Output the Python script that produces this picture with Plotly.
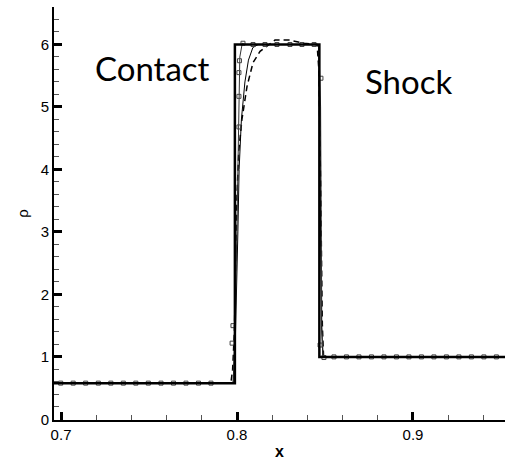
import plotly.graph_objects as go

# ---- data ----
exact_x = [0.69, 0.7988, 0.7988, 0.8468, 0.8468, 0.96]
exact_y = [0.58, 0.58, 6.0, 6.0, 1.0, 1.0]

lineA_x = [0.69, 0.7978, 0.7990, 0.8003, 0.8010, 0.8012, 0.8016, 0.8030, 0.8045, 0.8465, 0.8475, 0.8482, 0.8490, 0.96]
lineA_y = [0.58, 0.58, 1.5, 3.5, 4.7, 5.5, 5.8, 6.02, 6.0, 6.0, 5.0, 1.5, 1.0, 1.0]

markA_x = [0.6998, 0.7069, 0.7140, 0.7212, 0.7283, 0.7354, 0.7425, 0.7496, 0.7568, 0.7639, 0.7710, 0.7781, 0.7852,
           0.7972, 0.7977, 0.8011, 0.8011, 0.8011, 0.8014,
           0.8034, 0.8091, 0.8159, 0.8227, 0.8301, 0.8369, 0.8438,
           0.8477, 0.8472, 0.8494,
           0.8551, 0.8622, 0.8693, 0.8764, 0.8835, 0.8906, 0.8977, 0.9048, 0.9119, 0.9190, 0.9261, 0.9332, 0.9403, 0.9474]
markA_y = [0.58, 0.58, 0.58, 0.58, 0.58, 0.58, 0.58, 0.58, 0.58, 0.58, 0.58, 0.58, 0.58,
           1.22, 1.50, 4.68, 5.17, 5.55, 5.74,
           6.02, 6.0, 6.0, 6.0, 6.0, 6.0, 6.0,
           5.46, 1.19, 0.99,
           1.0, 1.0, 1.0, 1.0, 1.0, 1.0, 1.0, 1.0, 1.0, 1.0, 1.0, 1.0, 1.0, 1.0]

lineB_x = [0.69, 0.7978, 0.7990, 0.7998, 0.8005, 0.8012, 0.8025, 0.8045, 0.8065, 0.8090, 0.8120, 0.8465, 0.8472, 0.8480, 0.8488, 0.96]
lineB_y = [0.58, 0.58, 1.2, 2.0, 3.0, 4.0, 4.8, 5.4, 5.75, 5.95, 6.0, 6.0, 4.0, 1.5, 1.0, 1.0]

dashC_x = [0.69, 0.7965, 0.7975, 0.7985, 0.7993, 0.8000, 0.8010, 0.8028, 0.8057, 0.8091, 0.8131, 0.8216, 0.8300, 0.8380, 0.8455, 0.8465, 0.8475, 0.8485, 0.8492, 0.96]
dashC_y = [0.58, 0.58, 0.8, 1.4, 2.5, 3.6, 4.3, 4.8, 5.33, 5.71, 5.89, 6.07, 6.07, 6.02, 6.0, 5.6, 3.8, 1.5, 1.0, 1.0]

x_ticks = [0.7, 0.8, 0.9]
y_ticks = [0, 1, 2, 3, 4, 5, 6]

labels = ["Contact", "Shock"]
label_x = [0.7517, 0.8977]
label_y = [5.63, 5.41]

fig = go.Figure()
fig.add_trace(go.Scatter(x=dashC_x, y=dashC_y, mode="lines",
                         line=dict(color="black", width=1.5, dash="6px,4px"), showlegend=False))
fig.add_trace(go.Scatter(x=lineB_x, y=lineB_y, mode="lines",
                         line=dict(color="black", width=1), showlegend=False))
fig.add_trace(go.Scatter(x=lineA_x, y=lineA_y, mode="lines",
                         line=dict(color="#333", width=1), showlegend=False))
fig.add_trace(go.Scatter(x=markA_x, y=markA_y, mode="markers",
                         marker=dict(symbol="square-open", size=4, color="#444", line=dict(width=1)),
                         showlegend=False))
fig.add_trace(go.Scatter(x=exact_x, y=exact_y, mode="lines",
                         line=dict(color="black", width=2.5), showlegend=False))

for t, xx, yy in zip(labels, label_x, label_y):
    fig.add_annotation(x=xx, y=yy, text=t, showarrow=False,
                       font=dict(family="Lato, Open Sans, sans-serif", size=33, color="black"))

axis_common = dict(showline=True, linecolor="black", linewidth=2, ticks="inside",
                   ticklen=8, tickwidth=2.5, tickcolor="black", showgrid=False, zeroline=False,
                   tickfont=dict(family="Liberation Sans, Arial, sans-serif", size=15, color="black"))

fig.update_xaxes(range=[0.696, 0.9523], tickvals=x_ticks, ticktext=[str(v) for v in x_ticks],
                 minor=dict(ticks="inside", ticklen=5, tickwidth=1, tickcolor="#555", dtick=0.02),
                 title=dict(text="<b>x</b>", font=dict(family="Liberation Sans, Arial", size=16, color="black"),
                            standoff=4),
                 **axis_common)
fig.update_yaxes(range=[-0.01, 6.6], tickvals=y_ticks, ticktext=[str(v) for v in y_ticks],
                 minor=dict(ticks="inside", ticklen=5, tickwidth=1, tickcolor="#555", dtick=0.2),
                 title=dict(text="ρ", font=dict(family="Liberation Sans, Arial", size=15, color="black"),
                            standoff=8),
                 **axis_common)

fig.update_layout(width=505, height=460, margin=dict(l=54, r=0, t=7, b=40),
                  paper_bgcolor="white", plot_bgcolor="white")

fig.write_html("out.html")
